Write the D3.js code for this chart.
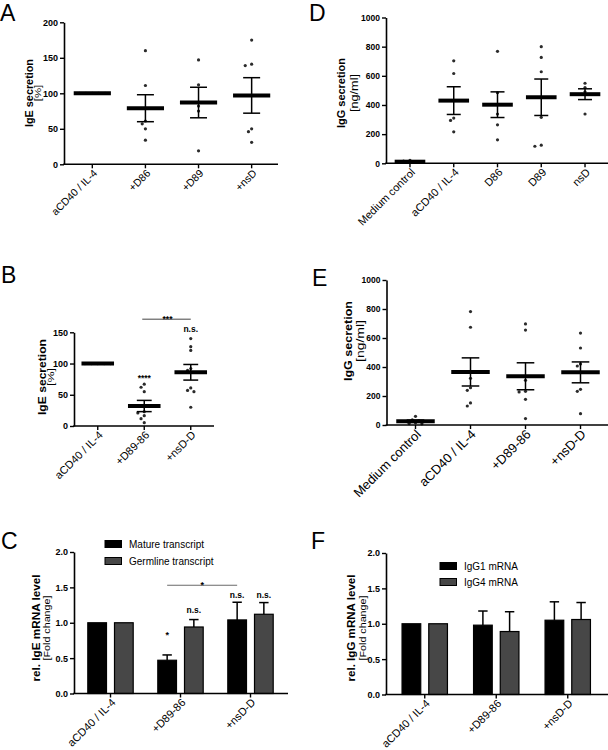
<!DOCTYPE html>
<html><head><meta charset="utf-8">
<script src="https://cdn.jsdelivr.net/npm/d3@7"></script>
<style>body{margin:0;background:#fff}svg{display:block;opacity:0.999;-webkit-font-smoothing:antialiased}</style>
</head><body>
<svg id="c" width="608" height="750"></svg>
<script>
// ---------------- DATA ----------------
// Panel A
const catsA = ["aCD40 / IL-4", "+D86", "+D89", "+nsD"];
const pointsA = [[100,100,100,100,100,100],[160,111,61,57,50,34],[147,112,82,75,19],[175,141,139,50,46,31]];
const meanA = [100, 79, 87, 97];
const semA = [0, 19, 21.5, 25];
const ticksA = [0, 50, 100, 150, 200];

// Panel B
const catsB = ["aCD40 / IL-4", "+D89-86", "+nsD-D"];
const pointsB = [[100,100,100,100,100,100,100,100,100],[67,62,55,23,21,16.5,11.7,5.3],[140,127,121,92,89,61,57,55,30]];
const meanB = [100, 32, 86];
const semB = [0, 9, 12.5];
const ticksB = [0, 50, 100, 150];
const sigB = [{cat:"+D89-86", value:72.5, text:"****"}, {cat:"+nsD-D", value:151, text:"n.s."}];
const bracketB = {from:"+D89-86", to:"+nsD-D", value:171, text:"***"};

// Panel C
const catsC = ["aCD40 / IL-4", "+D89-86", "+nsD-D"];
const seriesC = ["Mature transcript", "Germline transcript"];
const matureC = [1.0, 0.47, 1.04];
const matureErrC = [0, 0.075, 0.25];
const germlineC = [1.0, 0.94, 1.12];
const germlineErrC = [0, 0.105, 0.165];
const ticksC = [0, 0.5, 1.0, 1.5, 2.0];
const sigC = [{cat:"+D89-86", s:0, value:0.78, text:"*"}, {cat:"+D89-86", s:1, value:1.135, text:"n.s."},
              {cat:"+nsD-D", s:0, value:1.35, text:"n.s."}, {cat:"+nsD-D", s:1, value:1.35, text:"n.s."}];
const bracketC = {from:"+D89-86", to:"+nsD-D", s:0, value:1.53, text:"*"};

// Panel D
const catsD = ["Medium control", "aCD40 / IL-4", "D86", "D89", "nsD"];
const pointsD = [[10,12,8,20,15],[703,616,310,294,216],[768,484,338,264,161],[800,726,628,315,117,124],[549,520,490,473,338]];
const meanD = [11, 430, 402, 453, 474];
const semD = [2, 95, 88, 125, 37];
const ticksD = [0, 200, 400, 600, 800, 1000];

// Panel E
const catsE = ["Medium control", "aCD40 / IL-4", "+D89-86", "+nsD-D"];
const pointsE = [[35,30,60,10,8,15],[782,674,322,257,239,152,131],[697,655,308,232,228,177,44],[634,531,421,407,246,232,78]];
const meanE = [26, 366, 336, 363];
const semE = [8, 97, 93, 72];
const ticksE = [0, 200, 400, 600, 800, 1000];

// Panel F
const catsF = ["aCD40 / IL-4", "+D89-86", "+nsD-D"];
const seriesF = ["IgG1 mRNA", "IgG4 mRNA"];
const igg1F = [1.0, 0.98, 1.05];
const igg1ErrF = [0, 0.20, 0.26];
const igg4F = [1.0, 0.89, 1.06];
const igg4ErrF = [0, 0.28, 0.24];
const ticksF = [0, 0.5, 1.0, 1.5, 2.0];

// ---------------- DRAWING ----------------
const FONT = '"Liberation Sans", Arial, Helvetica, sans-serif';
const svg = d3.select("#c");
svg.append("rect").attr("width",608).attr("height",750).attr("fill","#fff");

function swarm(ys, r) {
  const order = ys.map((y,i)=>({y,i})).sort((a,b)=>a.y-b.y);
  const placed = [];
  const out = new Array(ys.length);
  order.forEach(p=>{
    const offs=[0,-1,1,-2,2,-3,3,-4,4];
    for (const k of offs){
      const dx = k*r;
      if (placed.every(q=>Math.hypot(q.dx-dx,q.y-p.y) >= r*1.15)){ placed.push({dx,y:p.y}); out[p.i]={dx,y:p.y}; break; }
    }
  });
  return out;
}

function axes(g, L, x, y, ticks, fmt) {
  const ya = d3.axisLeft(y).tickValues(ticks).tickFormat(fmt).tickSize(4).tickSizeOuter(0).tickPadding(2);
  const gy = g.append("g").attr("transform",`translate(${L.ax0},0)`).call(ya);
  gy.select(".domain").attr("stroke","#000").attr("stroke-width",1.6);
  gy.selectAll(".tick line").attr("stroke","#000").attr("stroke-width",1.4);
  gy.selectAll(".tick text").attr("font-size",L.tickFont).attr("font-weight","bold")
    .attr("font-family",FONT).attr("fill","#000");
  const xa = d3.axisBottom(x).tickSize(4).tickSizeOuter(0);
  const gx = g.append("g").attr("transform",`translate(0,${L.y0})`).call(xa);
  gx.select(".domain").remove();
  gx.selectAll(".tick line").attr("stroke","#000").attr("stroke-width",1.4);
  gx.selectAll(".tick text").attr("x",0).attr("y",0).attr("dy","0.35em")
    .attr("transform",`translate(${L.xoff[0]},${L.xoff[1]}) rotate(-45)`)
    .style("text-anchor","end").attr("font-size",L.xFont).attr("font-family",FONT).attr("fill","#000");
  g.append("line").attr("x1",L.ax0-0.8).attr("x2",L.ax1).attr("y1",L.y0).attr("y2",L.y0)
    .attr("stroke","#000").attr("stroke-width",1.6);
  // y title (two lines)
  const t = L.lab;
  g.append("text").attr("transform",`translate(${t.cx1},${t.cy}) rotate(-90)`)
    .attr("text-anchor","middle").attr("dominant-baseline","central")
    .attr("textLength",t.len1).attr("lengthAdjust","spacingAndGlyphs")
    .attr("font-family",FONT).attr("font-weight","bold").attr("font-size",t.f1).text(t.l1);
  g.append("text").attr("transform",`translate(${t.cx2},${t.cy}) rotate(-90)`)
    .attr("text-anchor","middle").attr("dominant-baseline","central")
    .attr("textLength",t.len2).attr("lengthAdjust","spacingAndGlyphs")
    .attr("font-family",FONT).attr("font-size",t.f2).text(t.l2);
}

function scatterPanel(L, cats, pts, mean, sem, ticks) {
  const g = svg.append("g");
  const x = d3.scaleBand().domain(cats).range(L.band);
  const y = d3.scaleLinear().domain([ticks[0], ticks[ticks.length-1]]).range([L.y0, L.y1]);
  const step = x.step(), bw = step*0.7, cw = step*0.32;
  cats.forEach((c,i)=>{
    const cx = x(c) + x.bandwidth()/2;
    swarm(pts[i].map(v=>y(v)), 3.2).forEach(p=>{
      g.append("circle").attr("cx",cx+p.dx).attr("cy",p.y).attr("r",1.6).attr("fill","#2b2b2b");
    });
    const yt = y(mean[i]+sem[i]), yb = y(mean[i]-sem[i]);
    g.append("line").attr("x1",cx).attr("x2",cx).attr("y1",yt).attr("y2",yb).attr("stroke","#000").attr("stroke-width",1.5);
    [yt,yb].forEach(yy=>g.append("line").attr("x1",cx-cw/2).attr("x2",cx+cw/2).attr("y1",yy).attr("y2",yy)
      .attr("stroke","#000").attr("stroke-width",1.5));
    g.append("line").attr("x1",cx-bw/2).attr("x2",cx+bw/2).attr("y1",y(mean[i])).attr("y2",y(mean[i]))
      .attr("stroke","#000").attr("stroke-width",4);
  });
  axes(g, L, x, y, ticks, d3.format("d"));
  return {g,x,y};
}

function barPanel(L, cats, series, vals, errs, ticks, colors) {
  const g = svg.append("g");
  const x = d3.scaleBand().domain(cats).range(L.band);
  const y = d3.scaleLinear().domain([ticks[0], ticks[ticks.length-1]]).range([L.y0, L.y1]);
  const inner = d3.scaleBand().domain(series).range([-22.7, 22.7]).paddingInner(0.3);
  cats.forEach((c,i)=>{
    const cx = x(c) + x.bandwidth()/2;
    series.forEach((s,j)=>{
      const bx = cx + inner(s), bwid = inner.bandwidth(), mx = bx + bwid/2;
      if (errs[j][i] > 0) {
        g.append("line").attr("x1",mx).attr("x2",mx).attr("y1",y(vals[j][i])).attr("y2",y(vals[j][i]+errs[j][i]))
          .attr("stroke","#000").attr("stroke-width",1.5);
        g.append("line").attr("x1",mx-4.7).attr("x2",mx+4.7).attr("y1",y(vals[j][i]+errs[j][i])).attr("y2",y(vals[j][i]+errs[j][i]))
          .attr("stroke","#000").attr("stroke-width",1.5);
      }
      g.append("rect").attr("x",bx).attr("width",bwid).attr("y",y(vals[j][i])).attr("height",y(0)-y(vals[j][i]))
        .attr("fill",colors[j]).attr("stroke","#000").attr("stroke-width",1.2);
    });
  });
  axes(g, L, x, y, ticks, d3.format(".1f"));
  // legend
  series.forEach((s,j)=>{
    const ly = L.leg.y + j*L.leg.dy;
    g.append("rect").attr("x",L.leg.x).attr("y",ly-3.5).attr("width",16.5).attr("height",7)
      .attr("fill",colors[j]).attr("stroke","#000").attr("stroke-width",1);
    g.append("text").attr("x",L.leg.x+24).attr("y",ly).attr("dominant-baseline","central")
      .attr("font-family",FONT).attr("font-size",L.leg.f).text(s);
  });
  return {g,x,y,inner};
}

function letter(t,x,y){
  svg.append("text").attr("x",x).attr("y",y).attr("font-family",FONT)
    .attr("font-size",23).text(t);
}
function sigText(g,x,y,t,size){
  g.append("text").attr("x",x).attr("y",y).attr("text-anchor","middle").attr("font-family",FONT)
    .attr("font-weight","bold").attr("font-size",size||8.5).text(t);
}

const LA = {ax0:64, ax1:278, band:[65.75,278.2], y0:164.3, y1:22.3, tickFont:9, xFont:10.5, xoff:[3,7],
  lab:{cx1:29.2, cx2:38.2, cy:93, f1:10, f2:8.5, len1:68, len2:16.5, l1:"IgE secretion", l2:"[%]"}};
const LB = {ax0:74, ax1:214, band:[74.5,214], y0:426, y1:332.3, tickFont:9, xFont:11, xoff:[3,7],
  lab:{cx1:42.3, cx2:51.3, cy:377, f1:10.5, f2:9, len1:76, len2:18, l1:"IgE secretion", l2:"[%]"}};
const LC = {ax0:74, ax1:288, band:[75.5,285.5], y0:693.5, y1:552, tickFont:9, xFont:11, xoff:[3,7],
  lab:{cx1:35.5, cx2:46.5, cy:628, f1:10.5, f2:9.5, len1:107, len2:65, l1:"rel. IgE mRNA level", l2:"[Fold change]"},
  leg:{x:105, y:544, dy:17, f:10}};
const LD = {ax0:386, ax1:608, band:[388.1,606.9], y0:163.3, y1:17.5, tickFont:8.5, xFont:11, xoff:[3,7],
  lab:{cx1:341, cx2:354, cy:93, f1:10.5, f2:10, len1:70, len2:38, l1:"IgG secretion", l2:"[ng/ml]"}};
const LE = {ax0:386.5, ax1:608, band:[388,608], y0:425, y1:280, tickFont:8.5, xFont:13, xoff:[3,7],
  lab:{cx1:348, cx2:360, cy:341, f1:10.5, f2:10, len1:80, len2:42, l1:"IgG secretion", l2:"[ng/ml]"}};
const LF = {ax0:386, ax1:608, band:[389,603.5], y0:694.5, y1:553, tickFont:9, xFont:11, xoff:[3,7],
  lab:{cx1:350.5, cx2:362.5, cy:628, f1:10.5, f2:9.5, len1:107, len2:65, l1:"rel. IgG mRNA level", l2:"[Fold change]"},
  leg:{x:440, y:566, dy:16, f:10}};

// A
scatterPanel(LA, catsA, pointsA, meanA, semA, ticksA);
// B
const pB = scatterPanel(LB, catsB, pointsB, meanB, semB, ticksB);
sigB.forEach(s=>sigText(pB.g, pB.x(s.cat)+pB.x.bandwidth()/2, pB.y(s.value), s.text, 8.5));
{
  const x1 = pB.x(bracketB.from)+pB.x.bandwidth()/2, x2 = pB.x(bracketB.to)+pB.x.bandwidth()/2, yy = pB.y(bracketB.value);
  pB.g.append("line").attr("x1",x1-2).attr("x2",x2).attr("y1",yy).attr("y2",yy).attr("stroke","#444").attr("stroke-width",1);
  sigText(pB.g,(x1+x2)/2,yy+2.5,bracketB.text,8.5);
}
// C
const pC = barPanel(LC, catsC, seriesC, [matureC, germlineC], [matureErrC, germlineErrC], ticksC, ["#000","#474747"]);
sigC.forEach(s=>{
  const cx = pC.x(s.cat)+pC.x.bandwidth()/2 + pC.inner(seriesC[s.s]) + pC.inner.bandwidth()/2;
  sigText(pC.g, cx, pC.y(s.value), s.text, s.text==="*"?9:8.5);
});
{
  const off = pC.inner(seriesC[bracketC.s]) + pC.inner.bandwidth()/2;
  const x1 = pC.x(bracketC.from)+pC.x.bandwidth()/2+off, x2 = pC.x(bracketC.to)+pC.x.bandwidth()/2+off, yy = pC.y(bracketC.value);
  pC.g.append("line").attr("x1",x1).attr("x2",x2).attr("y1",yy).attr("y2",yy).attr("stroke","#6a6a6a").attr("stroke-width",1.2);
  sigText(pC.g,(x1+x2)/2,yy+2.5,bracketC.text,9);
}
// D
scatterPanel(LD, catsD, pointsD, meanD, semD, ticksD);
// E
scatterPanel(LE, catsE, pointsE, meanE, semE, ticksE);
// F
barPanel(LF, catsF, seriesF, [igg1F, igg4F], [igg1ErrF, igg4ErrF], ticksF, ["#000","#474747"]);

letter("A",0,21); letter("D",309,21);
letter("B",1,283); letter("E",312,285.5);
letter("C",1,549); letter("F",311,549);
</script>
</body></html>
